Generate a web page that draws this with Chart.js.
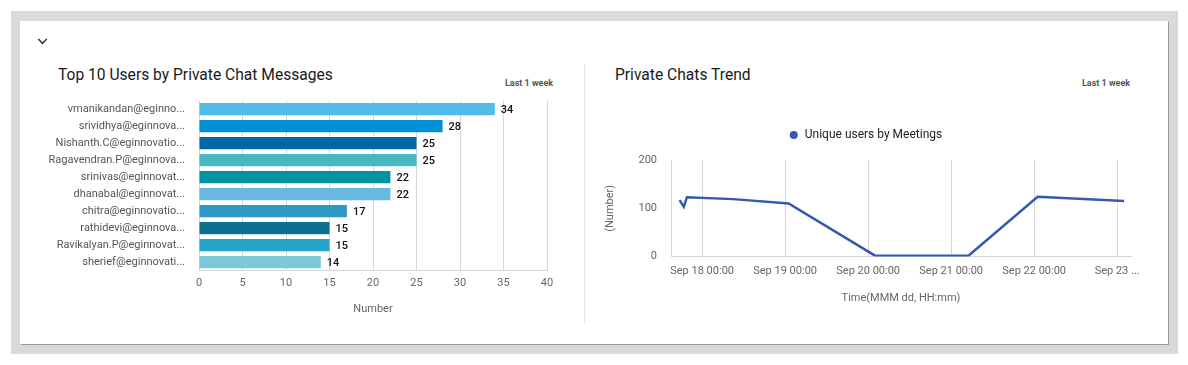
<!DOCTYPE html>
<html>
<head>
<meta charset="utf-8">
<script src="https://cdn.jsdelivr.net/npm/chart.js@4.4.1/dist/chart.umd.min.js"></script>
<style>
    body { margin: 0; background: #fff; font-family: Roboto, "Noto Sans", sans-serif; }
    .frame { position: absolute; left: 11px; top: 11px; width: 1167px; height: 343px; background: #d9d9dc; }
    .card { position: absolute; left: 9px; top: 10px; width: 1148px; height: 323px; background: #fff;
            box-shadow: 1px 1px 0 #9a9a9a; }
    .chev { position: absolute; left: 18px; top: 14px; width: 7px; height: 7px;
            border-right: 2px solid #333; border-bottom: 2px solid #333; transform: rotate(45deg) scale(0.75); }
    .title { position: absolute; font-size: 15.6px; font-weight: 400; color: #1a1a1a; }
    .range { position: absolute; font-size: 9px; font-weight: 700; color: #555; }
    .divider { position: absolute; left: 564px; top: 43px; width: 1px; height: 259px; background: #e6e6e6; }
    canvas { position: absolute; }
</style>
</head>
<body>
<div class="frame">
    <div class="card">
        <div class="chev"></div>
        <div class="title" style="left:38px;top:45px;">Top 10 Users by Private Chat Messages</div>
        <div class="range" style="left:485px;top:57px;">Last 1 week</div>
        <div class="divider"></div>
        <div class="title" style="left:595px;top:45px;">Private Chats Trend</div>
        <div class="range" style="left:1062px;top:57px;">Last 1 week</div>
    </div>
</div>
<canvas id="Barchart" width="540" height="240" style="left:20px;top:80px;"></canvas>
<canvas id="LineChart" width="555" height="200" style="left:600px;top:109px;"></canvas>
<script>
// top 10 users
const users = [
    'vmanikandan@eginno...', 'srividhya@eginnova...', 'Nishanth.C@eginnovatio...',
    'Ragavendran.P@eginnova...', 'srinivas@eginnovat...', 'dhanabal@eginnovat...',
    'chitra@eginnovatio...', 'rathidevi@eginnova...', 'Ravikalyan.P@eginnovat...',
    'sherief@eginnovati...'
];
const messageCounts = [34, 28, 25, 25, 22, 22, 17, 15, 15, 14];
const barColors = ['#4fbbe6', '#0090d4', '#0069a5', '#4ab7c4', '#00929f',
                   '#68b8e0', '#2e98c4', '#0e6f8f', '#23a4c8', '#7bc8d6'];

// trend: hours since Sep 17 00:00
const trendHours = [17.5, 18.7, 19.6, 33, 49, 74, 101, 121, 146];
const uniqueUsers = [117, 103, 123, 119, 110, 2, 2, 124, 115];
const dayTicks = [24, 48, 72, 96, 120, 144];
const dayLabels = ['Sep 18 00:00', 'Sep 19 00:00', 'Sep 20 00:00', 'Sep 21 00:00', 'Sep 22 00:00', 'Sep 23 ...'];

Chart.defaults.font.family = 'Roboto, "Noto Sans", sans-serif';
Chart.defaults.color = '#666';
Chart.defaults.animation = false;

// draw the value next to each bar
const valueLabels = {
    id: 'valueLabels',
    afterDatasetsDraw(chart) {
        const ctx = chart.ctx;
        const meta = chart.getDatasetMeta(0);
        ctx.save();
        ctx.font = '500 11px Roboto, sans-serif';
        ctx.fillStyle = '#111';
        ctx.textBaseline = 'middle';
        meta.data.forEach((bar, i) => {
            ctx.fillText(messageCounts[i], bar.x + 6, bar.y + 1);
        });
        ctx.restore();
    }
};

// extra room under the legend
const legendGap = {
    id: 'legendGap',
    beforeInit(chart) {
        const fit = chart.legend.fit;
        chart.legend.fit = function () {
            fit.bind(chart.legend)();
            this.height += 9;
        };
    }
};

new Chart(document.getElementById('Barchart'), {
    type: 'bar',
    data: {
        labels: users,
        datasets: [{
            data: messageCounts,
            backgroundColor: barColors,
            barPercentage: 0.75,
            categoryPercentage: 0.95
        }]
    },
    options: {
        indexAxis: 'y',
        responsive: false,
        layout: { padding: { top: 5, right: 13, left: 0, bottom: 0 } },
        plugins: { legend: { display: false }, tooltip: { enabled: false } },
        scales: {
            x: {
                min: 0, max: 40,
                ticks: { stepSize: 5, font: { size: 11 }, color: '#666', padding: 6 },
                grid: { color: '#d6d6d6', drawTicks: false },
                border: { color: '#d6d6d6' },
                title: { display: true, text: 'Number', font: { size: 11 }, color: '#666', padding: { top: 7 } }
            },
            y: {
                afterFit(scale) { scale.width = 179; },
                ticks: { autoSkip: false, font: { size: 11 }, color: '#555', padding: 14 },
                grid: { display: false, drawTicks: false },
                border: { display: false }
            }
        }
    },
    plugins: [valueLabels]
});

new Chart(document.getElementById('LineChart'), {
    type: 'line',
    data: {
        datasets: [{
            label: 'Unique users by Meetings',
            data: trendHours.map((h, i) => ({ x: h, y: uniqueUsers[i] })),
            borderColor: '#3559b0',
            backgroundColor: '#3559b0',
            borderWidth: 2.5,
            pointRadius: 0,
            tension: 0
        }]
    },
    options: {
        responsive: false,
        layout: { padding: { right: 24 } },
        plugins: {
            tooltip: { enabled: false },
            legend: {
                labels: { usePointStyle: true, pointStyle: 'circle', boxWidth: 10, boxHeight: 4,
                          font: { size: 12 }, color: '#222', padding: 20 }
            }
        },
        scales: {
            x: {
                type: 'linear',
                min: 15, max: 148,
                afterBuildTicks(scale) { scale.ticks = dayTicks.map(v => ({ value: v })); },
                ticks: {
                    autoSkip: false, maxRotation: 0, font: { size: 11 }, color: '#666', padding: 8,
                    callback: (v, i) => dayLabels[i]
                },
                grid: { color: '#d6d6d6', drawTicks: false },
                border: { color: '#d6d6d6' },
                title: { display: true, text: 'Time(MMM dd, HH:mm)', font: { size: 11 }, color: '#666', padding: { top: 6 } }
            },
            y: {
                min: 0, max: 200,
                afterFit(scale) { scale.width = 71; },
                ticks: { stepSize: 100, font: { size: 11 }, color: '#666', padding: 14 },
                grid: { display: false, drawTicks: false },
                border: { color: '#d6d6d6' },
                title: { display: true, text: '(Number)', font: { size: 11 }, color: '#666' }
            }
        }
    },
    plugins: [legendGap]
});
</script>
</body>
</html>
